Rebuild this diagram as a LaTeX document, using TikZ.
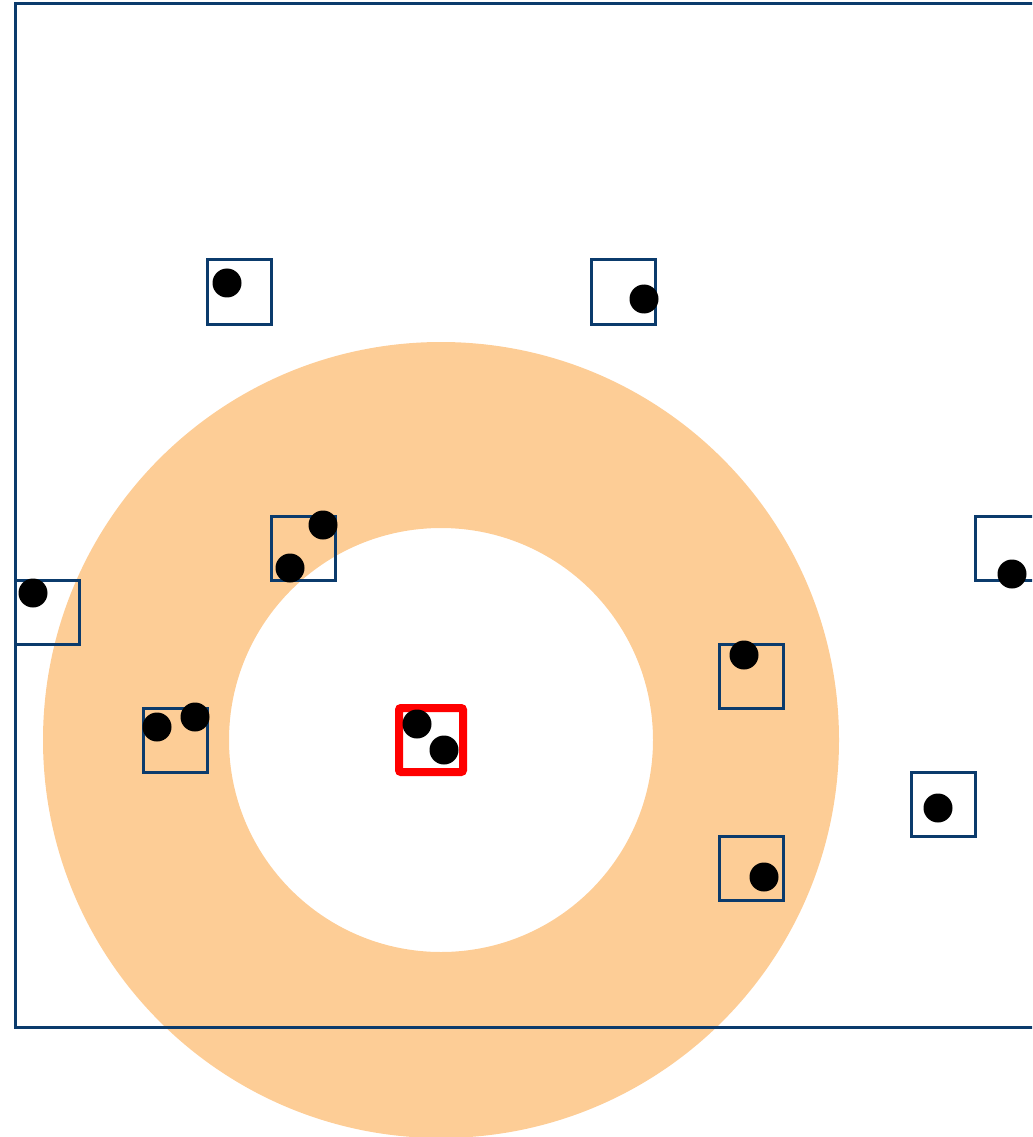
\documentclass[tikz,border=0pt]{standalone}
\definecolor{frame}{HTML}{0B3B6C}
\definecolor{ring}{HTML}{FDCD96}
\definecolor{redbox}{HTML}{FF0000}
\tikzset{
  cell/.style={draw=frame, line width=2.25pt, minimum size=48pt, inner sep=0pt, outer sep=0pt, anchor=north west, line join=miter},
  target/.style={draw=redbox, line width=6pt, minimum size=48pt, inner sep=0pt, outer sep=0pt, anchor=north west, rounded corners=1.5pt},
  pt/.style={circle, fill=black, minimum size=21.75pt, inner sep=0pt, outer sep=0pt},
}
\begin{document}
\begin{tikzpicture}[x=0.75pt,y=-0.75pt]
\useasboundingbox (0,0) rectangle (1032,1137);
\clip (0,0) rectangle (1032,1137);
% annulus
\fill[ring, even odd rule] (441,740) circle[radius=398] (441,740) circle[radius=212];
% outer frame
\draw[frame, line width=2.25pt] (1060,4) -- (15,4) -- (15,1027) -- (1060,1027);
% cells
\node[cell] (c1) at (207,260) {};
\node[cell] (c2) at (591,260) {};
\node[cell] (c3) at (271,516) {};
\node[cell] (c4) at (15,580) {};
\node[cell] (c5) at (143,708) {};
\node[target] (c6) at (399,708) {};
\node[cell] (c7) at (719,644) {};
\node[cell] (c8) at (719,836) {};
\node[cell] (c9) at (911,772) {};
\node[cell] (c10) at (975,516) {};
% points
\node[pt] (p1) at (227,283) {};
\node[pt] (p2) at (644,299) {};
\node[pt] (p3a) at (323,525) {};
\node[pt] (p3b) at (290,568) {};
\node[pt] (p4) at (33,593) {};
\node[pt] (p5a) at (157,727) {};
\node[pt] (p5b) at (195,717) {};
\node[pt] (p6a) at (417,724) {};
\node[pt] (p6b) at (444,750) {};
\node[pt] (p7) at (744,655) {};
\node[pt] (p8) at (764,877) {};
\node[pt] (p9) at (938,808) {};
\node[pt] (p10) at (1012,574) {};
\end{tikzpicture}
\end{document}
